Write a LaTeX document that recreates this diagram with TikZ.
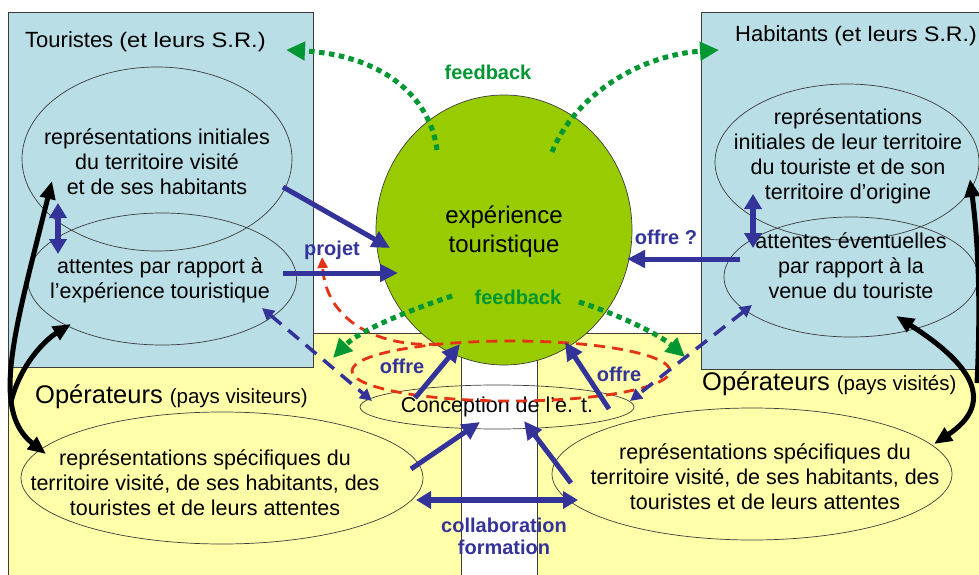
\documentclass[tikz,border=0pt]{standalone}
\usepackage{fontspec}
\setmainfont{Liberation Sans}
\usetikzlibrary{arrows.meta,shapes.geometric}

\definecolor{boxblue}{RGB}{185,222,229}
\definecolor{paleyellow}{RGB}{255,255,170}
\definecolor{circgreen}{RGB}{153,204,0}
\definecolor{arrblue}{RGB}{51,51,153}
\definecolor{fbgreen}{RGB}{0,150,50}
\definecolor{dashred}{RGB}{230,50,20}
\definecolor{edgegray}{RGB}{60,60,60}

\begin{document}
\begin{tikzpicture}[x=1pt,y=-1pt,
  region/.style={draw=edgegray, line width=0.8pt},
  oval/.style={ellipse, draw=edgegray, line width=0.7pt, inner sep=0pt},
  body/.style={font=\fontsize{21.5}{25}\selectfont, align=center, text=black, inner sep=0pt},
  head/.style={anchor=base west, inner sep=0pt, text=black},
  lbl/.style={font=\bfseries\fontsize{20}{23}\selectfont, text=arrblue, inner sep=0pt, align=center},
  fb/.style={font=\bfseries\fontsize{20}{23}\selectfont, text=fbgreen, inner sep=0pt},
  barrow/.style={draw=arrblue, line width=5pt, -{Triangle[length=18pt,width=17pt]}},
  bdouble/.style={draw=arrblue, line width=5.5pt, {Triangle[length=15pt,width=17pt]}-{Triangle[length=15pt,width=17pt]}},
  bdash/.style={draw=arrblue, line width=3.5pt, dash pattern=on 14pt off 9pt, {Triangle[length=12pt,width=12pt]}-{Triangle[length=12pt,width=12pt]}},
  gdot/.style={draw=fbgreen, line width=5pt, dash pattern=on 5.5pt off 4.5pt, -{Triangle[length=19pt,width=18pt]}},
  rdash/.style={draw=dashred, line width=2.8pt, dash pattern=on 11pt off 7pt},
  karrow/.style={draw=black, line width=5pt, -{Triangle[length=18pt,width=15pt]}},
  kdouble/.style={draw=black, line width=5pt, {Triangle[length=18pt,width=15pt]}-{Triangle[length=18pt,width=15pt]}}
]
\useasboundingbox (0,0) rectangle (979,575);

% backgrounds
\path[region, fill=paleyellow] (8,333) rectangle (461,600);
\path[region, fill=paleyellow] (537,333) rectangle (1000,600);
\path[region, fill=boxblue] (8,12) rectangle (313,367);
\path[region, fill=boxblue] (701,12) rectangle (1000,369);

% central circle
\node[ellipse, draw=edgegray, line width=0.7pt, fill=circgreen, minimum width=256, minimum height=270, inner sep=0pt] (exp) at (504,230) {};
\node[body, font=\fontsize{24}{29}\selectfont] (expT) at (504,232) {expérience\\touristique};

% ellipses
\node[oval, minimum width=270, minimum height=184] (tRep) at (157,159) {};
\node[oval, minimum width=269, minimum height=132] (tAtt) at (162,279) {};
\node[oval, minimum width=264, minimum height=156] (hRep) at (847,162) {};
\node[oval, minimum width=254, minimum height=120] (hAtt) at (851,277) {};
\node[oval, minimum width=402, minimum height=132] (oVis) at (222,478) {};
\node[oval, minimum width=400, minimum height=132] (oVst) at (752,474) {};
\node[oval, minimum width=274, minimum height=44, font=\fontsize{21.5}{25}\selectfont] (conc) at (497,407) {Conception de l’e. t.};
\node[ellipse, rdash, minimum width=318, minimum height=60, inner sep=0pt] (redOval) at (511,371) {};

% texts
\node[body] (tRepT) at (157,162) {représentations initiales\\du territoire visité\\et de ses habitants};
\node[body] (tAttT) at (160,280) {attentes par rapport à\\l’expérience touristique};
\node[body] (hRepT) at (848,156) {représentations\\initiales de leur territoire\\du touriste et de son\\territoire d’origine};
\node[body] (hAttT) at (851,266) {attentes éventuelles\\par rapport à la\\venue du touriste};
\node[body] (oVisT) at (205,483) {représentations spécifiques du\\territoire visité, de ses habitants, des\\touristes et de leurs attentes};
\node[body] (oVstT) at (765,477) {représentations spécifiques du\\territoire visité, de ses habitants, des\\touristes et de leurs attentes};

\node[head] (hTour) at (25,48) {\fontsize{22}{26}\selectfont Touristes \fontsize{21}{24}\selectfont\scalebox{1.13}[1]{(et leurs S.R.)}};
\node[head] (hHab) at (735,42) {\fontsize{22}{26}\selectfont Habitants \fontsize{21}{24}\selectfont\scalebox{1.1}[1]{(et leurs S.R.)}};
\node[head] (hOpL) at (35,403) {\fontsize{25.5}{29}\selectfont Opérateurs \fontsize{20.5}{24}\selectfont(pays visiteurs)};
\node[head] (hOpR) at (702,390) {\fontsize{25.5}{29}\selectfont Opérateurs \fontsize{20.5}{24}\selectfont(pays visités)};

% labels
\node[lbl] (lProj) at (332,250) {projet};
\node[lbl] (lOffQ) at (666,237) {offre ?};
\node[lbl] (lOffL) at (402,366) {offre};
\node[lbl] (lOffR) at (619,374) {offre};
\node[lbl] (lColl) at (504,536) {collaboration\\[-1pt]formation};
\node[fb] (lFb1) at (488,72) {feedback};
\node[fb] (lFb2) at (518,297) {feedback};

% coordinates for connector ends
\coordinate (a1s) at (283,187); \coordinate (a1e) at (390,248);
\coordinate (a2s) at (283,273); \coordinate (a2e) at (398,273);
\coordinate (a3s) at (740,259); \coordinate (a3e) at (627,259);
\coordinate (v1a) at (58,203); \coordinate (v1b) at (58,254);
\coordinate (v2a) at (753,194); \coordinate (v2b) at (753,248);
\coordinate (d1a) at (262,308); \coordinate (d1b) at (372,401);
\coordinate (d2a) at (752,305); \coordinate (d2b) at (630,401);
\coordinate (o1s) at (415,398); \coordinate (o1e) at (460,344);
\coordinate (o2s) at (609,409); \coordinate (o2e) at (565,342);
\coordinate (p1s) at (411,469); \coordinate (p1e) at (480,422);
\coordinate (p2s) at (571,483); \coordinate (p2e) at (524,421);
\coordinate (cfa) at (416,500); \coordinate (cfb) at (578,500);
\coordinate (g1s) at (437,150); \coordinate (g1e) at (286,50);
\coordinate (g2s) at (552,152); \coordinate (g2e) at (719,50);
\coordinate (g3s) at (452,296); \coordinate (g3e) at (333,358);
\coordinate (g4s) at (579,302); \coordinate (g4e) at (685,357);
\coordinate (r1s) at (440,344); \coordinate (r1e) at (322,257);
\coordinate (k1a) at (52,181); \coordinate (k1b) at (46,454);
\coordinate (k2s) at (11,402); \coordinate (k2e) at (71,324);
\coordinate (k3a) at (896,316); \coordinate (k3b) at (934,444);
\coordinate (k4s) at (977,383); \coordinate (k4e) at (970,179);

% red dashed projet
\draw[rdash, -{Triangle[length=11pt,width=10pt]}] (r1s) .. controls (380,348) and (326,322) .. (r1e);

% green feedback
\draw[gdot] (g1s) .. controls (430,95) and (380,55) .. (g1e);
\draw[gdot] (g2s) .. controls (575,95) and (640,55) .. (g2e);
\draw[gdot] (g3s) .. controls (410,310) and (360,330) .. (g3e);
\draw[gdot] (g4s) .. controls (620,315) and (660,335) .. (g4e);

% blue arrows
\draw[barrow] (a1s) -- (a1e);
\draw[barrow] (a2s) -- (a2e);
\draw[barrow] (a3s) -- (a3e);
\draw[bdouble] (v1a) -- (v1b);
\draw[bdouble] (v2a) -- (v2b);
\draw[bdash] (d1a) -- (d1b);
\draw[bdash] (d2a) -- (d2b);
\draw[barrow] (o1s) -- (o1e);
\draw[barrow] (o2s) -- (o2e);
\draw[barrow] (p1s) -- (p1e);
\draw[barrow] (p2s) -- (p2e);
\draw[bdouble] (cfa) -- (cfb);

% black arrows
\draw[kdouble] (k1a) .. controls (15,330) and (-10,410) .. (k1b);
\draw[karrow] (k2s) .. controls (20,365) and (45,340) .. (k2e);
\draw[kdouble] (k3a) .. controls (965,360) and (1000,400) .. (k3b);
\draw[karrow] (k4s) .. controls (981,300) and (978,240) .. (k4e);
\end{tikzpicture}
\end{document}
